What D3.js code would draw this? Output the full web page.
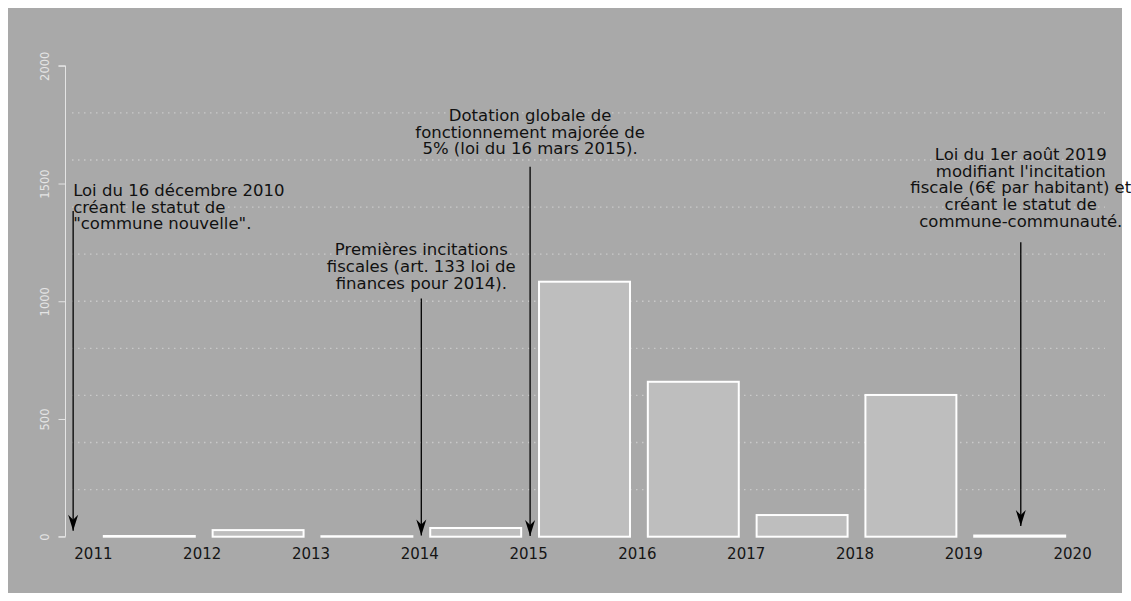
<!DOCTYPE html>
<html>
<head>
<meta charset="utf-8">
<script src="https://cdnjs.cloudflare.com/ajax/libs/d3/7.8.5/d3.min.js"></script>
<style>
  body { margin: 0; background: #ffffff; }
  text { font-family: "DejaVu Sans", sans-serif; }
</style>
</head>
<body>
<div id="chart-area"></div>
<script>
// Data
var years = [2011, 2012, 2013, 2014, 2015, 2016, 2017, 2018, 2019];
var values = [3, 28, 2, 37, 1083, 658, 92, 602, 5];
var xTicks = [2011, 2012, 2013, 2014, 2015, 2016, 2017, 2018, 2019, 2020];
var yTicks = [0, 500, 1000, 1500, 2000];
var gridValues = [200, 400, 600, 800, 1000, 1200, 1400, 1600, 1800];

// Annotations (x in years, y in data units)
var annX = [2010.8, 2014, 2015, 2019.51];
var annTop = [1383, 1012, 1571, 1251];
var annTip = [17, -3, -6, 37];
var annTextY = [1447, 1196, 1766, 1600];
var annAnchor = ["start", "middle", "middle", "middle"];
var annLines = [
    ["Loi du 16 décembre 2010", "créant le statut de", "\"commune nouvelle\"."],
    ["Premières incitations", "fiscales (art. 133 loi de", "finances pour 2014)."],
    ["Dotation globale de", "fonctionnement majorée de", "5% (loi du 16 mars 2015)."],
    ["Loi du 1er août 2019", "modifiant l'incitation", "fiscale (6€ par habitant) et", "créant le statut de", "commune-communauté."]
];

var W = 1131, H = 601;

var svg = d3.select("#chart-area")
    .append("svg")
        .attr("width", W)
        .attr("height", H);

// panel background
svg.append("rect")
    .attr("x", 8)
    .attr("y", 8)
    .attr("width", 1114)
    .attr("height", 585)
    .attr("fill", "#a9a9a9");

// Scales
var x = d3.scaleLinear()
    .domain([2011, 2020])
    .range([94.9, 1074.1]);

var y = d3.scaleLinear()
    .domain([0, 2000])
    .range([536.7, 65.8]);

// Grid lines (dotted)
svg.selectAll(".grid")
    .data(gridValues)
    .enter()
    .append("line")
        .attr("class", "grid")
        .attr("x1", 72)
        .attr("x2", 1105)
        .attr("y1", function(d){ return y(d); })
        .attr("y2", function(d){ return y(d); })
        .attr("stroke", "#c9c9c9")
        .attr("stroke-width", 1.3)
        .attr("stroke-dasharray", "1.5,4.5");

// Y Axis
var yAxisCall = d3.axisLeft(y)
    .tickValues(yTicks)
    .tickFormat(d3.format("d"))
    .tickSize(7)
    .tickPadding(13);
var yAxis = svg.append("g")
    .attr("class", "y axis")
    .attr("transform", "translate(65.5,0)")
    .call(yAxisCall);
yAxis.select(".domain").attr("stroke", "#e4e4e4").attr("d", "M-7," + y(2000) + "H0V" + y(0) + "H-7");
yAxis.selectAll(".tick line").attr("stroke", "#e4e4e4");
yAxis.selectAll(".tick text")
    .attr("fill", "#e4e4e4")
    .attr("font-family", "'Liberation Sans', Arial, sans-serif")
    .attr("font-size", "11.5px")
    .attr("transform", "rotate(-90)")
    .attr("x", 0)
    .attr("y", -21)
    .attr("dy", "0.35em")
    .attr("text-anchor", "middle");

// Bars
svg.selectAll(".bars")
    .data(years)
    .enter()
    .append("rect")
        .attr("class", "bars")
        .attr("x", function(d){ return x(d + 0.082); })
        .attr("width", function(d){ return x(d + 0.918) - x(d + 0.082); })
        .attr("y", function(d, i){ return y(values[i]); })
        .attr("height", function(d, i){ return y(0) - y(values[i]); })
        .attr("fill", "#bebebe")
        .attr("stroke", "#ffffff")
        .attr("stroke-width", 2);

// X labels
svg.selectAll(".xlab")
    .data(xTicks)
    .enter()
    .append("text")
        .attr("class", "xlab")
        .attr("x", function(d){ return x(d) - 1.5; })
        .attr("y", 559)
        .attr("text-anchor", "middle")
        .attr("font-size", "15px")
        .attr("fill", "#151515")
        .text(function(d){ return d; });

// Arrows
svg.append("defs")
    .append("marker")
        .attr("id", "head")
        .attr("viewBox", "-6 -17 12 18")
        .attr("refX", 0)
        .attr("refY", 0)
        .attr("markerWidth", 12)
        .attr("markerHeight", 18)
        .attr("markerUnits", "userSpaceOnUse")
        .attr("orient", "0")
    .append("path")
        .attr("d", "M0,0L-5,-16L0,-11L5,-16Z")
        .attr("fill", "#000");

svg.selectAll(".arrow")
    .data(annX)
    .enter()
    .append("line")
        .attr("class", "arrow")
        .attr("x1", function(d){ return x(d); })
        .attr("x2", function(d){ return x(d); })
        .attr("y1", function(d, i){ return y(annTop[i]); })
        .attr("y2", function(d, i){ return y(annTip[i]) - 2; })
        .attr("stroke", "#000")
        .attr("stroke-width", 1.3)
        .attr("marker-end", "url(#head)");

// Annotation texts
annX.forEach(function(d, i) {
    var t = svg.append("text")
        .attr("x", x(d))
        .attr("y", y(annTextY[i]))
        .attr("text-anchor", annAnchor[i])
        .attr("font-size", "16.5px")
        .attr("fill", "#111");
    annLines[i].forEach(function(line, j) {
        t.append("tspan")
            .attr("x", x(d))
            .attr("dy", j == 0 ? 0 : 16.7)
            .text(line);
    });
});
</script>
</body>
</html>
